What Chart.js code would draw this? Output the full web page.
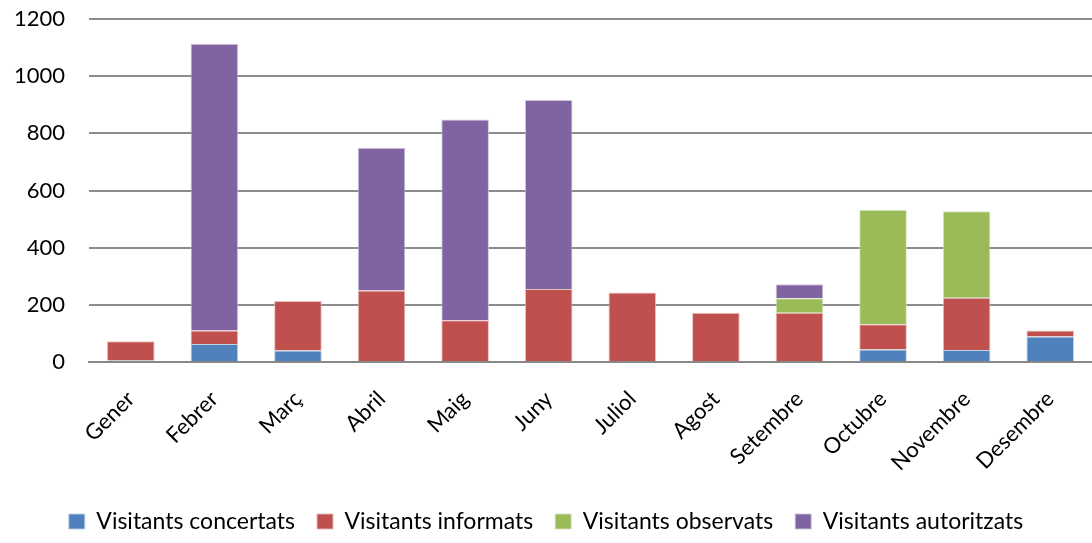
<!DOCTYPE html>
<html>
<head>
<meta charset="utf-8">
<script src="https://cdn.jsdelivr.net/npm/chart.js@4/dist/chart.umd.min.js"></script>
<style>
  html, body { margin: 0; padding: 0; background: #fff; }
  #wrap { width: 1092px; height: 543px; }
</style>
</head>
<body>
<div id="wrap"><canvas id="visitChart"></canvas></div>
<script>
var months = ['Gener', 'Febrer', 'Març', 'Abril', 'Maig', 'Juny', 'Juliol', 'Agost', 'Setembre', 'Octubre', 'Novembre', 'Desembre'];
var concertats = [5, 63, 40, 0, 0, 0, 0, 0, 0, 44, 42, 89];
var informats = [68, 47, 173, 250, 146, 255, 243, 172, 172, 88, 183, 21];
var observats = [0, 0, 0, 0, 0, 0, 0, 0, 51, 401, 302, 0];
var autoritzats = [0, 1003, 0, 500, 702, 662, 0, 0, 49, 0, 0, 0];

Chart.defaults.font.family = 'Lato, "Open Sans", sans-serif';
Chart.defaults.color = '#000';

var visits = new Chart(document.getElementById('visitChart'), {
    type: 'bar',
    data: {
        labels: months,
        datasets: [{
            label: 'Visitants concertats',
            data: concertats,
            backgroundColor: '#4F81BD',
            borderColor: 'rgba(185, 205, 229, 0.9)',
            borderWidth: 1
        }, {
            label: 'Visitants informats',
            data: informats,
            backgroundColor: '#C0504D',
            borderColor: 'rgba(230, 185, 184, 0.9)',
            borderWidth: 1
        }, {
            label: 'Visitants observats',
            data: observats,
            backgroundColor: '#9BBB59',
            borderColor: 'rgba(215, 228, 188, 0.9)',
            borderWidth: 1
        }, {
            label: 'Visitants autoritzats',
            data: autoritzats,
            backgroundColor: '#8064A2',
            borderColor: 'rgba(204, 193, 218, 0.9)',
            borderWidth: 1
        }]
    },
    options: {
        responsive: true,
        maintainAspectRatio: false,
        animation: false,
        layout: { padding: { top: 19, right: 0, left: 0, bottom: 0 } },
        datasets: {
            bar: { barPercentage: 0.57, categoryPercentage: 1.0 }
        },
        plugins: {
            tooltip: { enabled: false },
            legend: {
                position: 'bottom',
                labels: {
                    font: { size: 23 },
                    boxWidth: 16,
                    boxHeight: 15,
                    padding: 22
                }
            }
        },
        scales: {
            x: {
                stacked: true,
                grid: { display: false },
                border: { color: '#888', width: 2 },
                ticks: {
                    font: { size: 22 },
                    maxRotation: 45,
                    minRotation: 45,
                    padding: 16
                },
                afterFit: function (scale) {
                    // month labels may hang left of the plot
                    scale.paddingLeft = 0;
                    scale.paddingRight = 0;
                    scale.height -= 4;
                }
            },
            y: {
                stacked: true,
                min: 0,
                max: 1200,
                ticks: {
                    stepSize: 200,
                    font: { size: 22 },
                    padding: 24,
                    callback: function (v) { return String(v); }
                },
                grid: { color: '#8c8c8c', lineWidth: 2, drawTicks: false },
                border: { display: false },
                afterFit: function (scale) {
                    scale.width = 89;
                    scale.paddingTop = 0;
                    scale.paddingBottom = 0;
                }
            }
        }
    }
});
</script>
</body>
</html>
